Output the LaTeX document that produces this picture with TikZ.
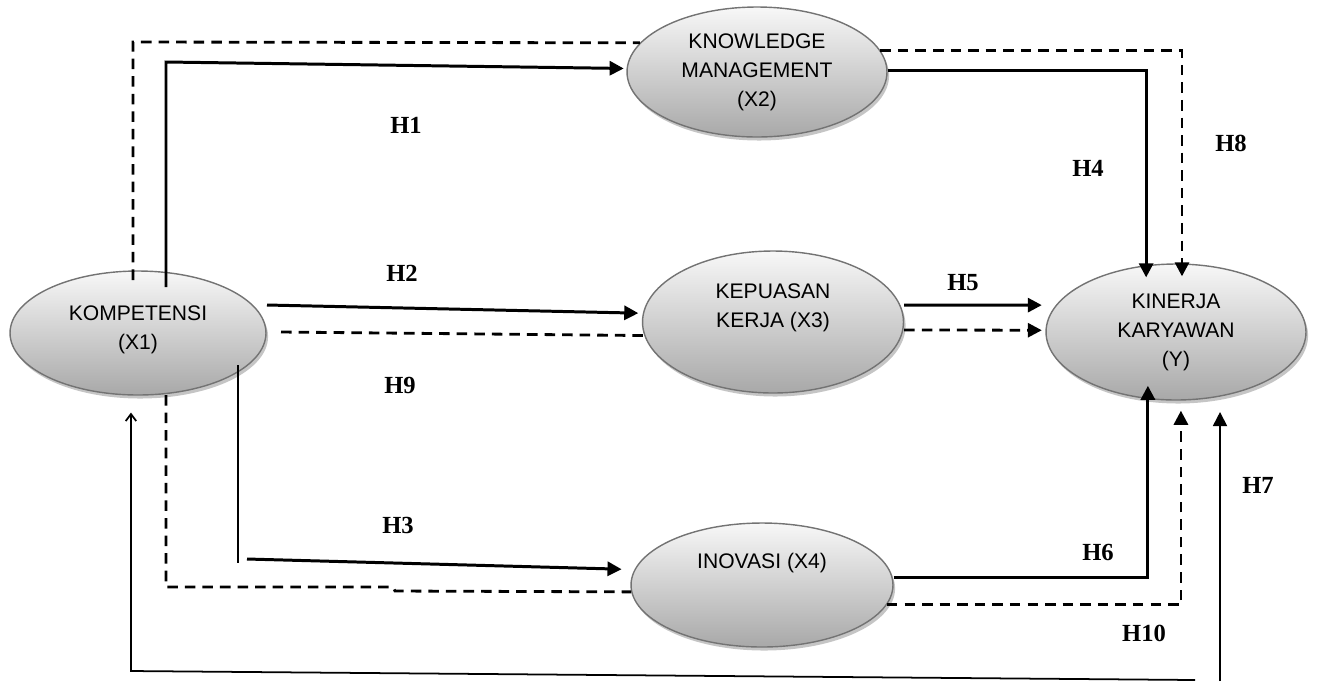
\documentclass[tikz,border=0pt]{standalone}
\usepackage{fontspec}
\setmainfont{Liberation Serif}
\setsansfont{Liberation Sans}
\usetikzlibrary{shapes.geometric,arrows.meta,shadows}

\begin{document}
\begin{tikzpicture}[x=0.02cm, y=-0.02cm,
        var/.style={ellipse, draw=black!55, line width=0.8pt, top color=black!3, bottom color=black!34,
            drop shadow={shadow xshift=1.2pt, shadow yshift=-2pt, fill=black!45},
            align=center, inner sep=0pt, font=\sffamily\fontsize{12}{16.5}\selectfont},
        hyp/.style={font=\bfseries\fontsize{14}{16}\selectfont},
        lnk/.style={line width=1.7pt},
        dlnk/.style={line width=1.6pt, dash pattern=on 6pt off 4pt},
        thinlnk/.style={line width=1pt},
        arr/.style={-{Triangle[length=8pt,width=8pt]}}]
        \useasboundingbox (0,0) rectangle (1317,681);

        \node[var, minimum width=5.12cm, minimum height=2.48cm, text depth=6pt] (x1) at (138,333) {KOMPETENSI\\(X1)};
        \node[var, minimum width=5.2cm, minimum height=2.6cm] (x2) at (757,72) {KNOWLEDGE\\MANAGEMENT\\(X2)};
        \node[var, minimum width=5.22cm, minimum height=2.84cm, text depth=19pt] (x3) at (773,322) {KEPUASAN\\KERJA (X3)};
        \node[var, minimum width=5.24cm, minimum height=2.48cm, text depth=28pt] (x4) at (762,585) {INOVASI (X4)};
        \node[var, minimum width=5.2cm, minimum height=2.72cm] (y) at (1176,332) {KINERJA\\KARYAWAN\\(Y)};

        \coordinate (s1) at (166,287);
        \coordinate (b1) at (166,62);
        \coordinate (s2) at (267,305);
        \coordinate (s3) at (238,365);
        \coordinate (b3) at (238,563);
        \coordinate (s3b) at (247,559);
        \coordinate (s8) at (133,280);
        \coordinate (b8) at (133,42);
        \coordinate (s9) at (281,332);
        \coordinate (s10) at (166,395);
        \coordinate (b10) at (166,587);
        \coordinate (k10) at (393,587);
        \coordinate (k10b) at (395,591);
        \coordinate (s7) at (1220,681);
        \coordinate (sb) at (1195,680);
        \coordinate (bb) at (131,671);

        \draw[lnk, arr, shorten >=1.5pt] (s1) -- (b1) -- ([yshift=2pt]x2.west);
        \draw[lnk, arr, shorten >=2pt] (s2) -- ([yshift=5pt]x3.west);
        \draw[lnk] (s3) -- (b3);
        \draw[lnk, arr] (s3b) -- ([xshift=-5pt,yshift=9pt]x4.west);
        \draw[lnk, arr] ([yshift=1pt]x2.east) -| ([xshift=-17pt,yshift=-8pt]y.north);
        \draw[lnk, arr] ([yshift=9.6pt]x3.east) -- ([xshift=-2pt,yshift=15.3pt]y.west);
        \draw[lnk, arr] ([yshift=4.5pt]x4.east) -| ([xshift=-16pt,yshift=8.5pt]y.south);

        \draw[dlnk] (s8) -- (b8) -- (x2.166);
        \draw[dlnk, arr] (x2.10) -| ([xshift=3.4pt,yshift=-7.4pt]y.north);
        \draw[dlnk] (s9) -- (x3.186);
        \draw[dlnk, arr] ([yshift=-4.5pt]x3.east) -- ([xshift=-2pt,yshift=1pt]y.west);
        \draw[dlnk] (s10) -- (b10) -- (k10) -- (k10b) -- (x4.183);
        \draw[dlnk, arr] (x4.351) -| ([xshift=2.8pt,yshift=-5.7pt]y.south);

        \draw[thinlnk, arr] (s7) -- (s7 |- 0,412);
        \draw[thinlnk, -{Straight Barb[length=4pt,width=6pt]}] (sb) -- (bb) -- ([xshift=-4pt,yshift=-9.6pt]x1.south);

        \node[hyp] (h1) at (406,125) {H1};
        \node[hyp] (h2) at (402,273) {H2};
        \node[hyp] (h9) at (400,385) {H9};
        \node[hyp] (h3) at (398,525) {H3};
        \node[hyp] (h4) at (1088,168) {H4};
        \node[hyp] (h8) at (1231,143) {H8};
        \node[hyp] (h5) at (963,283) {H5};
        \node[hyp] (h6) at (1098,552) {H6};
        \node[hyp] (h10) at (1144,633) {H10};
        \node[hyp] (h7) at (1258,485) {H7};
    \end{tikzpicture}
\end{document}
